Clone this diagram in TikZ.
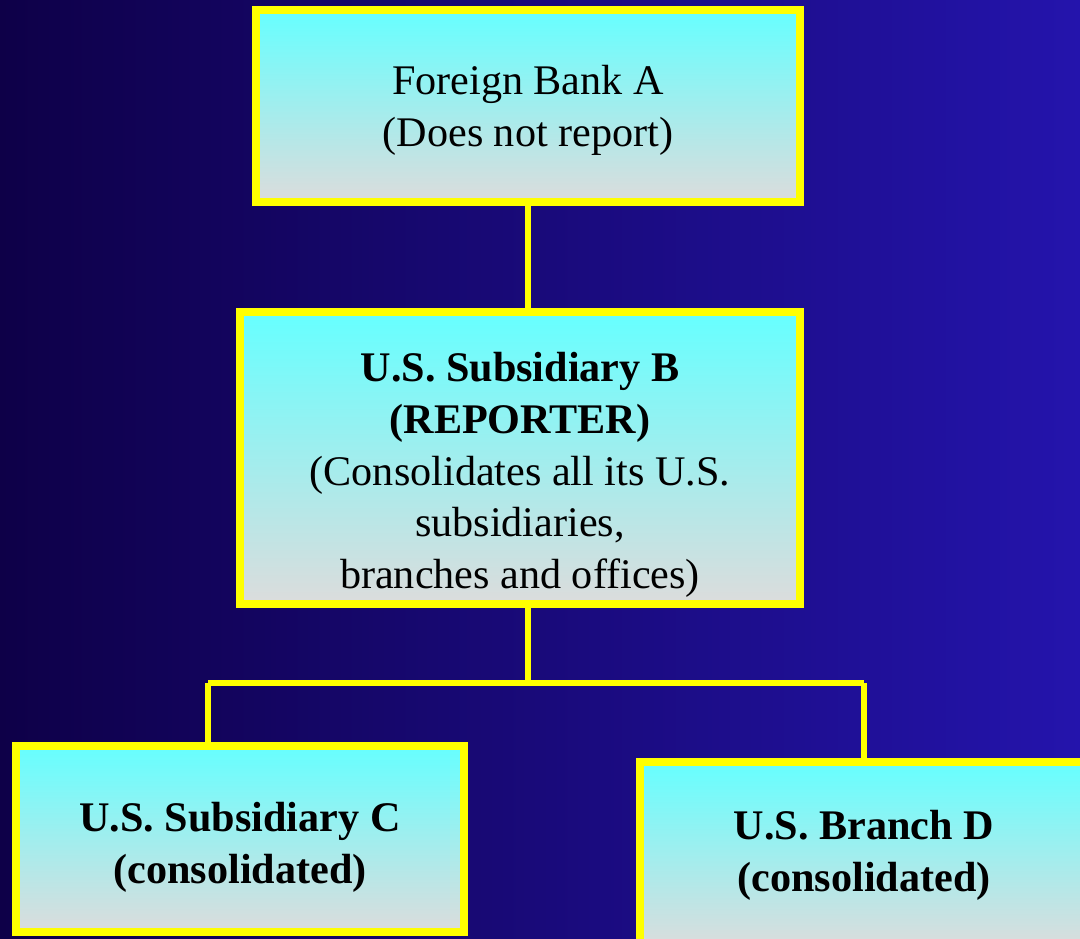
\documentclass[tikz,border=0pt]{standalone}
\usepackage{fontspec}
\setmainfont{Liberation Serif}
\usepackage{tikz}
\usetikzlibrary{positioning}
\definecolor{bgleft}{HTML}{0E0048}
\definecolor{bgright}{HTML}{2414AC}
\definecolor{boxtop}{HTML}{66FFFF}
\definecolor{boxbottom}{HTML}{DCDCDC}
\definecolor{edge}{HTML}{FFFF00}
\tikzstyle{entity} = [rectangle, top color=boxtop, bottom color=boxbottom, draw=edge, line width=4.5pt, align=center, font=\fontsize{24}{29.5}\selectfont, text=black]
\tikzstyle{link} = [draw=edge, line width=3.3pt]

\begin{document}
\begin{tikzpicture}
        \shade[left color=bgleft, right color=bgright] (0,0) rectangle (21.6,-18.76);
        \useasboundingbox (0,0) rectangle (21.6,-18.76);

        \node (bankA) [entity, minimum width=10.88cm, minimum height=3.84cm] at (10.56,-2.12) {\rule{0pt}{22pt}Foreign Bank A\\(Does not report)};
        \node (subB) [entity, minimum width=11.2cm, minimum height=5.76cm] at (10.40,-9.16) {\rule{0pt}{36pt}\textbf{U.S. Subsidiary B}\\\textbf{(REPORTER)}\\(Consolidates all its U.S.\\subsidiaries,\\branches and offices)};
        \node (subC) [entity, minimum width=8.96cm, minimum height=3.72cm] at (4.8,-16.78) {\rule{0pt}{26.5pt}\textbf{U.S. Subsidiary C}\\\textbf{(consolidated)}};
        \node (branchD) [entity, minimum width=8.96cm, minimum height=3.72cm] at (17.28,-17.1) {\textbf{U.S. Branch D}\\\textbf{(consolidated)}};

        \coordinate (split) at (10.56,-13.66);
        \coordinate (toC) at (4.16,-13.66);
        \coordinate (toD) at (17.28,-13.66);

        \draw [link] (bankA.south) -- (subB.north -| bankA.south);
        \draw [link] (subB.south -| bankA.south) -- (split);
        \draw [link] (toC) -- (toD);
        \draw [link] (toC) -- (subC.north -| toC);
        \draw [link] (toD) -- (branchD.north);
    \end{tikzpicture}
\end{document}
